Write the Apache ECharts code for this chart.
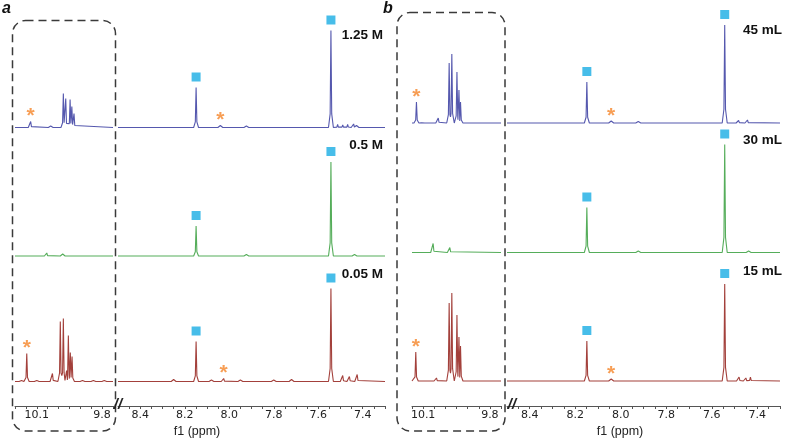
<!DOCTYPE html>
<html><head><meta charset="utf-8">
<script src="https://cdn.jsdelivr.net/npm/echarts@6/dist/echarts.min.js"></script>
<style>html,body{margin:0;padding:0;background:#fff}#c{width:786px;height:441px}</style>
</head><body><div id="c"></div>
<script>
// ---------- tick labels & texts ----------
const ticksLeft = ['10.1', '9.8'];
const ticksRight = ['8.4', '8.2', '8.0', '7.8', '7.6', '7.4'];
const axisTitle = 'f1 (ppm)';
const panelNames = ['a', 'b'];
const labelsA = ['1.25 M', '0.5 M', '0.05 M'];
const labelsB = ['45 mL', '30 mL', '15 mL'];
const squarePpm = [8.149, 7.543];   // peaks marked with blue squares

// ---------- spectra: peaks [ppm, height] ----------
// panel a
const a1L = [[10.128, 6], [10.036, 1.5], [9.978, 34], [9.967, 29], [9.947, 28], [9.939, 21], [9.929, 14]];
const a1R = [[8.149, 40], [8.04, 2], [7.923, 1.5], [7.543, 97], [7.513, 3], [7.49, 2.5], [7.468, 3], [7.441, 3.5], [7.428, 2]];
const a2L = [[10.054, 3], [9.981, 2]];
const a2R = [[8.149, 30], [7.923, 1.5], [7.543, 94], [7.437, 1.5]];
const a3L = [[10.17, 1], [10.146, 28], [10.1, 1], [10.028, 8], [9.992, 60], [9.978, 63], [9.963, 11], [9.955, 46], [9.946, 29], [9.938, 25], [9.89, 1], [9.84, 1], [9.79, 1]];
const a3R = [[8.25, 2], [8.149, 40], [8.08, 1.5], [8.025, 3], [7.95, 1.5], [7.8, 1.5], [7.72, 2], [7.543, 93], [7.49, 6], [7.46, 5], [7.425, 7]];
// panel b
const b1L = [[10.13, 21], [10.103, 2], [10.032, 5], [9.983, 60], [9.971, 69], [9.948, 51], [9.939, 33], [9.932, 21]];
const b1R = [[8.149, 41], [8.042, 2], [7.923, 1.5], [7.543, 98], [7.482, 2.5], [7.443, 3]];
const b2L = [[10.055, 9], [9.98, 5]];
const b2R = [[8.149, 45], [7.923, 1.5], [7.543, 108], [7.438, 1.5]];
const b3L = [[10.133, 29], [10.04, 3], [9.983, 78], [9.971, 88], [9.948, 66], [9.939, 44], [9.932, 35]];
const b3R = [[8.149, 40], [8.042, 2], [7.543, 97], [7.48, 4], [7.45, 3], [7.43, 4]];
// asterisk-marked peaks (ppm)
const starA1 = [10.128, 8.04];
const starA3 = [10.146, 8.025];
const starB1 = [10.13, 8.042];
const starB3 = [10.133, 8.042];

// ---------- layout / style ----------
const COL = { blue: '#5558ae', green: '#55ad5a', red: '#a3403b' };
const layout = {
  a: { L: { left: 15, width: 98, min: 9.75, max: 10.2 }, R: { left: 118, width: 267, min: 7.3, max: 8.5 }, base: [127.5, 256, 381.5], axisY: 406 },
  b: { L: { left: 412, width: 89, min: 9.75, max: 10.15 }, R: { left: 507, width: 273, min: 7.3, max: 8.5 }, base: [123, 252.5, 381], axisY: 406 }
};
const ROWH = 118;

function shape(peaks, xmin, xmax) {
  const w = 0.011, n = 0.0035;
  const s = peaks.slice().sort((p, q) => q[0] - p[0]);
  const pts = [[xmax, 0]];
  for (let i = 0; i < s.length; i++) {
    const [p, h] = s[i];
    const prev = s[i - 1], next = s[i + 1];
    if (!prev || prev[0] - p >= 2 * w) pts.push([p + w, 0]);
    pts.push([p + n, h * 0.14]); pts.push([p, h]); pts.push([p - n, h * 0.14]);
    if (next && p - next[0] < 2 * w) pts.push([(p + next[0]) / 2, Math.min(h, next[1]) * 0.1]);
    else pts.push([p - w, 0]);
  }
  pts.push([xmin, 0]);
  return pts;
}
function pick(peaks, list) {
  return peaks.filter(pk => list.some(v => Math.abs(v - pk[0]) < 0.004));
}

const grids = [], xAxes = [], yAxes = [], series = [];
function addGrid(seg, top, height, axisCfg) {
  const idx = grids.length;
  grids.push({ left: seg.left, width: seg.width, top: top, height: height, containLabel: false });
  const xa = { type: 'value', gridIndex: idx, min: seg.min, max: seg.max, inverse: true, show: !!axisCfg };
  if (axisCfg) {
    Object.assign(xa, {
      interval: 0.05,
      axisLine: { show: true, onZero: false, lineStyle: { color: '#555', width: 1 } },
      axisTick: { show: true, length: 3, lineStyle: { color: '#555' } },
      splitLine: { show: false },
      axisLabel: {
        show: true, margin: 4, color: '#222', fontFamily: 'DejaVu Sans', fontSize: 11,
        showMinLabel: true, showMaxLabel: true,
        formatter: v => {
          if (Math.abs(v * 10 - Math.round(v * 10)) > 1e-6) return '';
          const s = (Math.round(v * 10) / 10).toFixed(1);
          return axisCfg.includes(s) ? s : '';
        }
      }
    });
  }
  xAxes.push(xa);
  yAxes.push({ type: 'value', gridIndex: idx, min: 0, max: height, show: false });
  return idx;
}
function addSpectrum(seg, base, peaks, color, stars, squares) {
  const g = addGrid(seg, base - ROWH, ROWH, null);
  series.push({ type: 'line', xAxisIndex: g, yAxisIndex: g, data: shape(peaks, seg.min, seg.max), symbol: 'none',
    lineStyle: { color: color, width: 1.1 }, clip: false, silent: true, animation: false, z: 2 });
  if (squares) series.push({ type: 'scatter', xAxisIndex: g, yAxisIndex: g, data: pick(peaks, squares), symbol: 'rect',
    symbolSize: 9, symbolOffset: [0, -10.5], itemStyle: { color: '#19ace4' }, clip: false, silent: true, animation: false, z: 3 });
  if (stars) series.push({ type: 'scatter', xAxisIndex: g, yAxisIndex: g, data: pick(peaks, stars), symbolSize: 1,
    itemStyle: { color: 'rgba(0,0,0,0)' }, clip: false, silent: true, animation: false, z: 3,
    label: { show: true, formatter: '*', position: 'inside', offset: [0, -5], color: '#f5862a',
      fontFamily: 'Liberation Sans', fontWeight: 'bold', fontSize: 21 } });
}

const spectraA = [[a1L, a1R, COL.blue, starA1], [a2L, a2R, COL.green, null], [a3L, a3R, COL.red, starA3]];
const spectraB = [[b1L, b1R, COL.blue, starB1], [b2L, b2R, COL.green, null], [b3L, b3R, COL.red, starB3]];
[['a', spectraA], ['b', spectraB]].forEach(([k, sp]) => {
  const L = layout[k];
  sp.forEach((s, i) => {
    addSpectrum(L.L, L.base[i], s[0], s[2], s[3], null);
    addSpectrum(L.R, L.base[i], s[1], s[2], s[3], squarePpm);
  });
  addGrid(L.L, L.axisY - 1, 1, ticksLeft);
  addGrid(L.R, L.axisY - 1, 1, ticksRight);
});

function txt(x, y, text, font, align, valign, fill) {
  return { type: 'text', x: x, y: y, silent: true, z: 10,
    style: { text: text, font: font, fill: fill || '#111', align: align, verticalAlign: valign,
      textAlign: align, textVerticalAlign: valign } };
}
const lblFont = 'bold 13.5px "Liberation Sans", Arial, sans-serif';
const graphic = [
  { type: 'rect', silent: true, z: 1, shape: { x: 12.5, y: 20.5, width: 103, height: 410.5, r: 13 },
    style: { fill: 'none', stroke: '#3a3a3a', lineWidth: 1.5, lineDash: [8, 5] } },
  { type: 'rect', silent: true, z: 1, shape: { x: 397, y: 12.5, width: 108, height: 418.5, r: 13 },
    style: { fill: 'none', stroke: '#3a3a3a', lineWidth: 1.5, lineDash: [8, 5] } },
  txt(2, 9, panelNames[0], 'italic bold 16px "Liberation Sans", Arial', 'left', 'middle'),
  txt(383, 9, panelNames[1], 'italic bold 16px "Liberation Sans", Arial', 'left', 'middle'),
  txt(383, 35, labelsA[0], lblFont, 'right', 'middle'),
  txt(383, 145, labelsA[1], lblFont, 'right', 'middle'),
  txt(383, 274, labelsA[2], lblFont, 'right', 'middle'),
  txt(782, 30, labelsB[0], lblFont, 'right', 'middle'),
  txt(782, 140, labelsB[1], lblFont, 'right', 'middle'),
  txt(782, 271, labelsB[2], lblFont, 'right', 'middle'),
  txt(197, 432, axisTitle, '12.5px "Liberation Sans", Arial', 'center', 'middle', '#222'),
  txt(620, 432, axisTitle, '12.5px "Liberation Sans", Arial', 'center', 'middle', '#222'),
  txt(118, 405, '//', 'italic bold 15px "Liberation Sans", Arial', 'center', 'middle', '#222'),
  txt(512, 405, '//', 'italic bold 15px "Liberation Sans", Arial', 'center', 'middle', '#222')
];

const chart = echarts.init(document.getElementById('c'), null, { renderer: 'canvas' });
chart.setOption({ animation: false, backgroundColor: '#fff', grid: grids, xAxis: xAxes, yAxis: yAxes, series: series, graphic: graphic });
</script></body></html>
